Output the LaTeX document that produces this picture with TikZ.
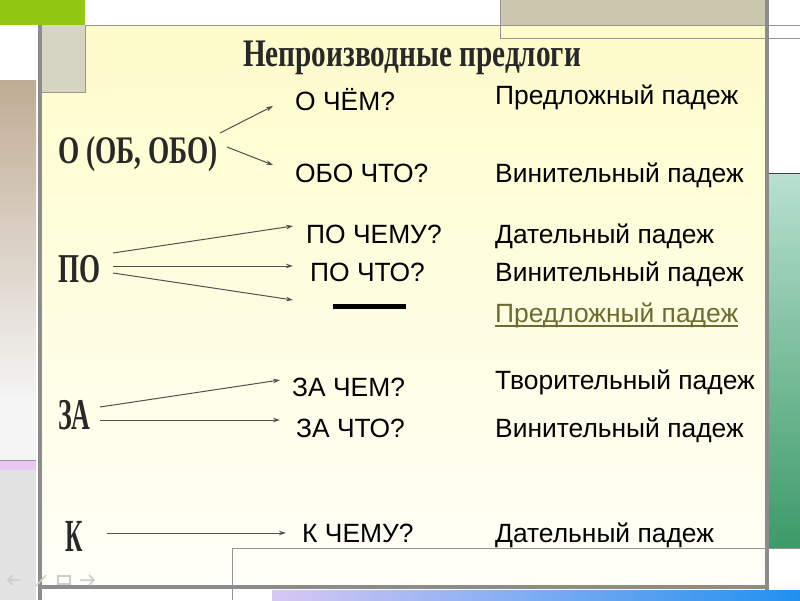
\documentclass[tikz,border=0pt]{standalone}
\usepackage{fontspec}
\setmainfont{Liberation Serif}
\setsansfont{Liberation Sans}
\newfontfamily\qfont{Liberation Sans}
\newfontfamily\wafont{Liberation Serif}
\usetikzlibrary{arrows.meta}
\definecolor{framegray}{RGB}{140,140,140}
\definecolor{thingray}{RGB}{150,150,150}
\definecolor{topgreen}{RGB}{146,200,20}
\definecolor{beige}{RGB}{203,199,174}
\definecolor{beigelight}{RGB}{214,212,194}
\definecolor{tan}{RGB}{192,172,148}
\definecolor{pinkbar}{RGB}{232,200,240}
\definecolor{lightgray}{RGB}{226,226,226}
\definecolor{panelyellow}{RGB}{254,252,202}
\definecolor{panelwhite}{RGB}{255,255,248}
\definecolor{greentop}{RGB}{184,224,208}
\definecolor{greenbot}{RGB}{60,154,104}
\definecolor{lavender}{RGB}{216,200,244}
\definecolor{barblue}{RGB}{32,144,240}
\definecolor{olive}{RGB}{108,108,48}
\definecolor{arrowgray}{RGB}{80,80,80}
\definecolor{navgray}{RGB}{205,205,205}
\definecolor{wordart}{RGB}{40,40,40}
\begin{document}
\begin{tikzpicture}[x=1pt,y=-1pt,
  q/.style={anchor=base west, inner sep=0pt, font=\qfont\fontsize{26.4}{30}\selectfont, text=black},
  wa/.style={anchor=base west, inner sep=0pt, text=wordart, font=\wafont\bfseries},
  conn/.style={draw=arrowgray, line width=1pt, -{Stealth[length=7pt,width=4.5pt]}},
  frame/.style={draw=framegray, line width=4pt},
  thin/.style={draw=thingray, line width=1pt}]
\useasboundingbox (0,0) rectangle (800,600);
\fill[white] (0,0) rectangle (800,600);
% left strip
\fill[topgreen] (0,0) rectangle (85,25);
\fill[top color=tan, bottom color=white!96!black] (0,80) rectangle (36,400);
\fill[white!96!black] (0,400) rectangle (36,460);
\fill[pinkbar] (0,460) rectangle (36,470);
\draw[thin] (0,460) -- (36,460) (0,470) -- (36,470);
\fill[lightgray] (0,470) rectangle (36,600);
% main panel
\fill[top color=panelyellow, bottom color=panelwhite] (42,25) rectangle (767,586);
% boxes
\fill[beigelight] (42,25) rectangle (85,92);
\draw[thin] (85,25) -- (85,92) -- (42,92);
\fill[beige] (500,0) rectangle (768,25);
\draw[thin] (500,0) -- (500,38) -- (768,38);
\draw[thin] (85,25) -- (800,25);
\draw[thin] (768,38) -- (800,38);
% right strip
\fill[top color=greentop, bottom color=greenbot] (769,174) rectangle (800,548);
\draw[draw=black!75, line width=1pt] (769,173) -- (800,173);
% bottom
\fill[left color=lavender, right color=barblue] (272,590) rectangle (800,600);
\draw[thin] (232,600) -- (232,548) -- (800,548);
% frame lines
\draw[frame] (40,25) -- (40,600);
\draw[frame] (767,0) -- (767,590);
\draw[frame] (40,587) -- (767,587);
% nav icons
\begin{scope}[navgray, line width=1.5pt]
\draw (20,580) -- (8,580) (13,575) -- (8,580) -- (13,585);
\draw (36,586) -- (46,575);
\draw (58,576) rectangle (70,584);
\draw (80,580) -- (94,580) (89,575) -- (94,580) -- (89,585);
\end{scope}
% title
\node[anchor=base, inner sep=0pt, text=wordart] (title) at (412,66)
  {\scalebox{0.75}[1]{\fontsize{39}{44}\selectfont\bfseries Непроизводные предлоги}};
% left labels
\node[wa] (lo) at (58,163) {\scalebox{0.70}[1]{\fontsize{39}{44}\selectfont О (ОБ, ОБО)}};
\node[wa] (lpo) at (58,282) {\scalebox{0.66}[1]{\fontsize{41}{46}\selectfont ПО}};
\node[wa] (lza) at (58,429) {\scalebox{0.59}[1]{\fontsize{44}{48}\selectfont ЗА}};
\node[wa] (lk) at (65,551) {\scalebox{0.52}[1]{\fontsize{46}{50}\selectfont К}};
% questions
\node[q] (q1) at (295,110) {О ЧЁМ?};
\node[q] (q2) at (295,182) {ОБО ЧТО?};
\node[q] (q3) at (306,243) {ПО ЧЕМУ?};
\node[q] (q4) at (310,281) {ПО ЧТО?};
\node[q] (q5) at (292,396) {ЗА ЧЕМ?};
\node[q] (q6) at (296,437) {ЗА ЧТО?};
\node[q] (q7) at (302,542) {К ЧЕМУ?};
\draw[black, line width=5pt] (333,306) -- (406,306);
% cases
\node[q] (c1) at (495,104) {Предложный падеж};
\node[q] (c2) at (495,182) {Винительный падеж};
\node[q] (c3) at (495,243) {Дательный падеж};
\node[q] (c4) at (495,281) {Винительный падеж};
\node[q, text=olive] (c5) at (495,322) {Предложный падеж};
\draw[olive, line width=1.5pt] ([yshift=-4pt]c5.base west) -- ([yshift=-4pt]c5.base east);
\node[q] (c6) at (495,389) {Творительный падеж};
\node[q] (c7) at (495,437) {Винительный падеж};
\node[q] (c8) at (495,542) {Дательный падеж};
% connector end points
\coordinate (so1) at (220,133); \coordinate (eo1) at (273,106);
\coordinate (so2) at (227,147); \coordinate (eo2) at (273,165);
\coordinate (sp1) at (113,253); \coordinate (ep1) at (293,226);
\coordinate (sp2) at (113,266); \coordinate (ep2) at (293,266);
\coordinate (sp3) at (113,273); \coordinate (ep3) at (293,300);
\coordinate (sz1) at (100,407); \coordinate (ez1) at (280,380);
\coordinate (sz2) at (100,420); \coordinate (ez2) at (280,420);
\coordinate (sk) at (107,533); \coordinate (ek) at (286,533);
\draw[conn] (so1) -- (eo1);
\draw[conn] (so2) -- (eo2);
\draw[conn] (sp1) -- (ep1);
\draw[conn] (sp2) -- (ep2);
\draw[conn] (sp3) -- (ep3);
\draw[conn] (sz1) -- (ez1);
\draw[conn] (sz2) -- (ez2);
\draw[conn] (sk) -- (ek);
\end{tikzpicture}
\end{document}
